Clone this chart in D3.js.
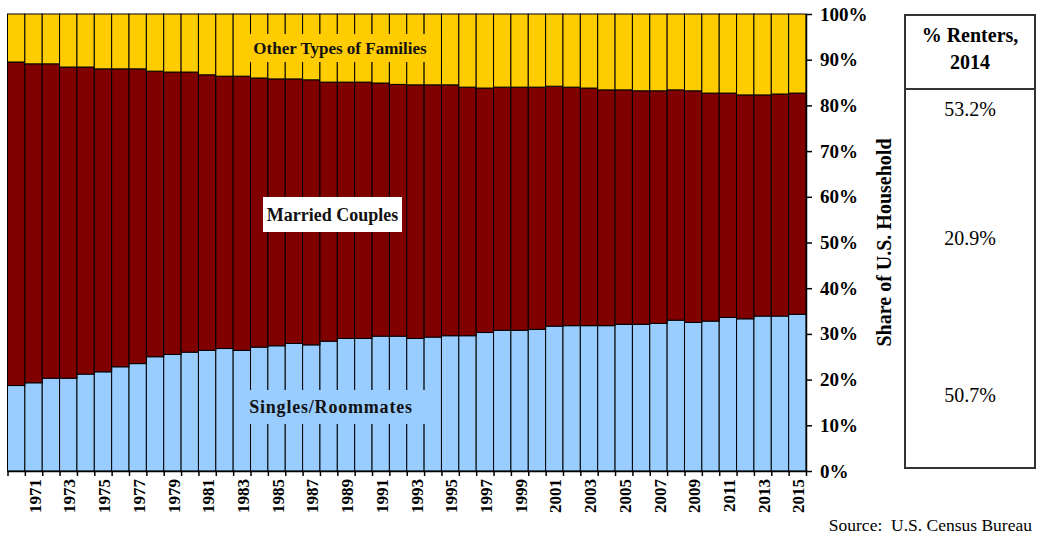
<!DOCTYPE html>
<html><head><meta charset="utf-8">
<script src="https://cdn.jsdelivr.net/npm/d3@7"></script>
<style>
body{margin:0;background:#fff}
text{font-family:"Liberation Serif","Times New Roman",serif;fill:#000}
</style>
</head><body>
<svg id="c" width="1051" height="546"></svg>
<script>
const years = [1970,1971,1972,1973,1974,1975,1976,1977,1978,1979,
  1980,1981,1982,1983,1984,1985,1986,1987,1988,1989,
  1990,1991,1992,1993,1994,1995,1996,1997,1998,1999,
  2000,2001,2002,2003,2004,2005,2006,2007,2008,2009,
  2010,2011,2012,2013,2014,2015];
const singles = [18.7,19.3,20.3,20.3,21.2,21.7,22.8,23.5,25.0,25.5,
  26.0,26.4,26.8,26.4,27.1,27.4,27.9,27.6,28.4,29.0,
  29.0,29.5,29.5,29.0,29.3,29.6,29.6,30.3,30.8,30.8,
  31.0,31.7,31.8,31.8,31.8,32.1,32.1,32.3,33.0,32.5,
  32.8,33.6,33.3,33.9,33.9,34.3];
const married = [70.8,69.8,68.8,68.1,67.2,66.3,65.2,64.5,62.5,61.8,
  61.3,60.3,59.6,60.0,58.9,58.4,57.9,58.0,56.7,56.1,
  56.1,55.4,55.1,55.5,55.2,54.9,54.4,53.5,53.2,53.2,
  53.0,52.5,52.2,52.0,51.6,51.3,51.1,50.9,50.4,50.7,
  49.9,49.1,49.0,48.4,48.6,48.4];
const other = [10.5,10.9,10.9,11.6,11.6,12.0,12.0,12.0,12.5,12.7,
  12.7,13.3,13.6,13.6,14.0,14.2,14.2,14.4,14.9,14.9,
  14.9,15.1,15.4,15.5,15.5,15.5,16.0,16.2,16.0,16.0,
  16.0,15.8,16.0,16.2,16.6,16.6,16.8,16.8,16.6,16.8,
  17.3,17.3,17.7,17.7,17.5,17.3];
const seriesKeys = ["singles","married","other"];
const seriesNames = ["Singles/Roommates","Married Couples","Other Types of Families"];
const yTicks = [0,10,20,30,40,50,60,70,80,90,100];
const xLabelYears = [1971,1973,1975,1977,1979,1981,1983,1985,1987,1989,1991,1993,1995,1997,1999,2001,2003,2005,2007,2009,2011,2013,2015];
const yTitle = "Share of U.S. Household";
const tableHeader = ["% Renters,","2014"];
const tableValues = ["53.2%","20.9%","50.7%"];
const sourceText = "Source:  U.S. Census Bureau";

const colors = {singles:"#99CCFF", married:"#800000", other:"#FFCC00"};
const labelBg = {singles:"#99CCFF", married:"#FFFFFF", other:"#FFCC00"};

const rows = years.map((y,i)=>({year:y, singles:singles[i], married:married[i], other:other[i]}));
const stack = d3.stack().keys(seriesKeys)(rows);

const svg = d3.select("#c");
const L = 7.5, R = 806, T = 14, B = 471;
const x = d3.scaleBand().domain(years).range([L,R]).padding(0);
const xl = d3.scaleLinear().domain([0,years.length]).range([L,R]);
const y = d3.scaleLinear().domain([0,100]).range([B,T]);

// bars
svg.append("g").selectAll("g").data(stack).join("g")
  .attr("fill", d=>colors[d.key])
  .selectAll("rect").data(d=>d).join("rect")
  .attr("x", d=>x(d.data.year))
  .attr("width", x.bandwidth())
  .attr("y", d=>y(d[1]))
  .attr("height", d=>y(d[0])-y(d[1]))
  .attr("stroke","#000").attr("stroke-width",1);

// x axis (ticks at bar boundaries)
const xa = svg.append("g").attr("transform",`translate(0,${B})`)
  .call(d3.axisBottom(xl).tickValues(d3.range(0,years.length+1)).tickFormat("").tickSize(5).tickSizeOuter(0));
xa.selectAll("line,path").attr("stroke","#000").attr("stroke-width",1.5);

// x labels
svg.append("g").selectAll("text").data(xLabelYears).join("text")
  .attr("transform", d=>`translate(${x(d)+x.bandwidth()/2},${B+8}) rotate(-90)`)
  .attr("text-anchor","end").attr("dy","0.42em")
  .style("font-size","17px").style("font-weight","bold")
  .text(d=>d);

// y axis right
const ya = svg.append("g").attr("transform",`translate(${R},0)`)
  .call(d3.axisRight(y).tickValues(yTicks).tickFormat(d=>d+"%").tickSize(6).tickPadding(8).tickSizeOuter(0));
ya.selectAll("line,path").attr("stroke","#000").attr("stroke-width",1.5);
ya.selectAll("text").style("font-size","19px").style("font-weight","bold")
  .style("font-family",'"Liberation Serif",serif').attr("fill","#000");

// y title
svg.append("text").attr("transform",`translate(891,${(T+B)/2}) rotate(-90)`)
  .attr("text-anchor","middle").style("font-size","20px").style("font-weight","bold").text(yTitle);

// in-chart labels
const labelPos = {
  other:{cx:340, cy:48, w:201, h:28, fs:17, ls:0},
  married:{cx:332.5, cy:214.5, w:139, h:35, fs:18, ls:0},
  singles:{cx:331, cy:407, w:192, h:34, fs:18, ls:0.8}
};
seriesKeys.forEach((k,i)=>{
  const p = labelPos[k];
  const g = svg.append("g");
  g.append("rect").attr("x",p.cx-p.w/2).attr("y",p.cy-p.h/2).attr("width",p.w).attr("height",p.h).attr("fill",labelBg[k]);
  g.append("text").attr("x",p.cx).attr("y",p.cy).attr("dy","0.35em").attr("text-anchor","middle")
    .style("font-size",p.fs+"px").style("letter-spacing",p.ls+"px").style("font-weight","bold").style("fill", "#111").text(seriesNames[i]);
});

// table
const tx0 = 905, tx1 = 1035, ty0 = 15, ty1 = 468, tdiv = 89;
svg.append("rect").attr("x",tx0).attr("y",ty0).attr("width",tx1-tx0).attr("height",ty1-ty0)
  .attr("fill","#fff").attr("stroke","#333").attr("stroke-width",2);
svg.append("line").attr("x1",tx0).attr("x2",tx1).attr("y1",tdiv).attr("y2",tdiv).attr("stroke","#333").attr("stroke-width",2);
const tcx = (tx0+tx1)/2;
const headerY = [35,61.5];
tableHeader.forEach((t,i)=>svg.append("text").attr("x",tcx).attr("y",headerY[i]).attr("dy","0.35em")
  .attr("text-anchor","middle").style("font-size","20px").style("font-weight","bold").text(t));
const valY = [108.5,238,395];
tableValues.forEach((t,i)=>svg.append("text").attr("x",tcx).attr("y",valY[i]).attr("dy","0.35em")
  .attr("text-anchor","middle").style("font-size","20px").text(t));

// source
svg.append("text").attr("x",1032).attr("y",531).attr("text-anchor","end")
  .style("font-size","17.5px").style("white-space","pre").text(sourceText);
</script>
</body></html>
